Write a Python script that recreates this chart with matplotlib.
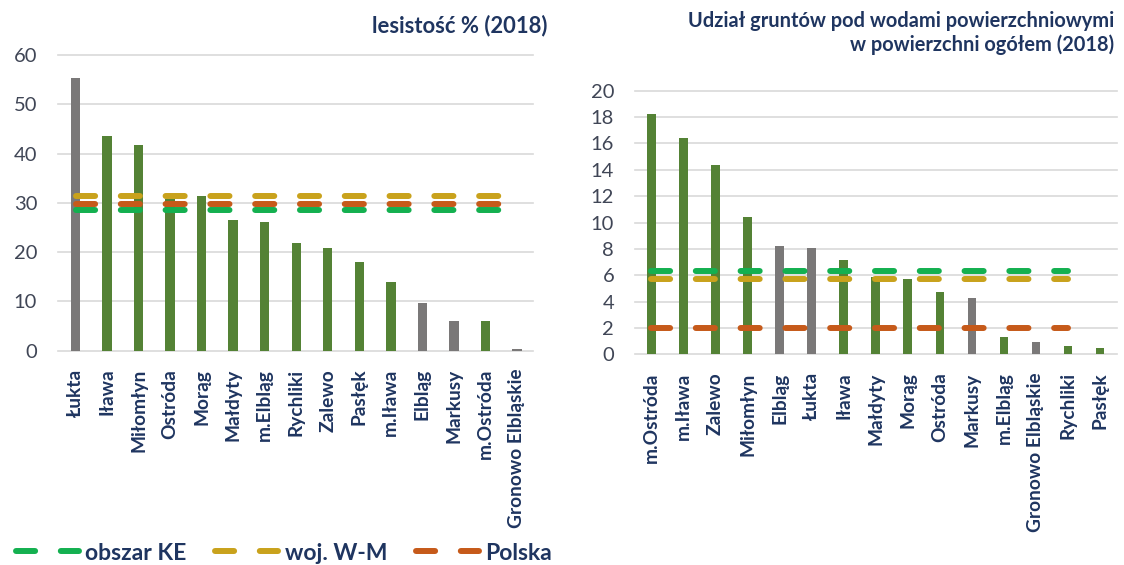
import matplotlib
matplotlib.use("Agg")
import matplotlib.pyplot as plt
from matplotlib.lines import Line2D

# ---------------- data ----------------
left_categories = ["Łukta", "Iława", "Miłomłyn", "Ostróda", "Morąg", "Małdyty", "m.Elbląg",
                   "Rychliki", "Zalewo", "Pasłęk", "m.Iława", "Elbląg", "Markusy",
                   "m.Ostróda", "Gronowo Elbląskie"]
left_values = [55.4, 43.6, 41.7, 30.7, 31.4, 26.5, 26.2, 21.8, 20.8, 17.9, 13.9, 9.7, 6.1, 6.1, 0.3]
left_is_gray = [True, False, False, False, False, False, False, False, False, False, False,
                True, True, False, True]
left_ke = 28.5
left_wm = 31.4
left_pl = 29.7

right_categories = ["m.Ostróda", "m.Iława", "Zalewo", "Miłomłyn", "Elbląg", "Łukta", "Iława",
                    "Małdyty", "Morąg", "Ostróda", "Markusy", "m.Elbląg", "Gronowo Elbląskie",
                    "Rychliki", "Pasłęk"]
right_values = [18.25, 16.4, 14.35, 10.45, 8.25, 8.05, 7.15, 5.85, 5.7, 4.75, 4.25, 1.3, 0.9, 0.63, 0.45]
right_is_gray = [False, False, False, False, True, True, False, False, False, False, True,
                 False, True, False, False]
right_ke = 6.3
right_wm = 5.7
right_pl = 2.0

left_title = "lesistość % (2018)"
right_title = "Udział gruntów pod wodami powierzchniowymi\nw powierzchni ogółem (2018)"
series_names = ["obszar KE", "woj. W-M", "Polska"]

# ---------------- style ----------------
FONT = "Lato"
NAVY = "#1f3560"
TICKGRAY = "#404656"
GRID = "#d9d9d9"
BAR_GREEN = "#548235"
BAR_GRAY = "#7a7878"
LINE_COLORS = {"obszar KE": "#14b050", "woj. W-M": "#c9a21c", "Polska": "#c65a1a"}
LW = 4.3
DASH = (0, (3.2, 4.3))

plt.rcParams["font.family"] = [FONT, "DejaVu Sans"]

W, H = 1124, 565
fig = plt.figure(figsize=(W / 100, H / 100), dpi=100)


def px_axes(l, r, t, b):
    return fig.add_axes([l / W, 1 - b / H, (r - l) / W, (b - t) / H])


def draw(ax, cats, vals, grays, ke, wm, pl, ymax, ystep, xlim, bar_w, line_n):
    x = list(range(len(cats)))
    colors = [BAR_GRAY if g else BAR_GREEN for g in grays]
    ax.bar(x, vals, width=bar_w, color=colors, zorder=2)
    xl = x[:line_n]
    for name, v in (("woj. W-M", wm), ("obszar KE", ke), ("Polska", pl)):
        ax.plot(xl, [v] * len(xl), color=LINE_COLORS[name], lw=LW, linestyle=DASH,
                dash_capstyle="round", solid_capstyle="round", zorder=3)
    ax.set_xlim(*xlim)
    ax.set_ylim(0, ymax)
    ax.set_yticks(list(range(0, ymax + 1, ystep)))
    ax.set_xticks(x)
    ax.set_xticklabels(cats, rotation=90, fontsize=13.8, fontweight="bold", color=NAVY)
    ax.tick_params(axis="x", length=0, pad=13)
    ax.tick_params(axis="y", length=0, pad=15, labelsize=14.5, labelcolor=TICKGRAY)
    for s in ax.spines.values():
        s.set_visible(False)
    ax.grid(axis="y", color=GRID, lw=1.2, zorder=0)
    ax.set_axisbelow(True)
    for gl in ax.get_ygridlines():
        gl.set_clip_on(False)


axL = px_axes(58, 533, 55, 350.7)
draw(axL, left_categories, left_values, left_is_gray, left_ke, left_wm, left_pl,
     60, 10, (-0.557, 14.51), 0.3, len(left_categories))

axR = px_axes(635, 1117, 90.7, 354.3)
draw(axR, right_categories, right_values, right_is_gray, right_ke, right_wm, right_pl,
     20, 2, (-0.515, 14.53), 0.27, len(right_categories) - 1)

fig.text(547 / W, 1 - 26 / H, left_title, ha="right", va="center", fontsize=15.8,
         fontweight="bold", color=NAVY)
fig.text(1114 / W, 1 - 33 / H, right_title, ha="right", va="center", fontsize=14.4,
         fontweight="bold", color=NAVY, linespacing=1.2, multialignment="right")

handles = [Line2D([0], [0], color=LINE_COLORS[n], lw=LW, linestyle=DASH,
                  dash_capstyle="round") for n in series_names]
fig.legend(handles, series_names, loc="center left", bbox_to_anchor=(16 / W, 1 - 553 / H),
           ncol=3, frameon=False, handlelength=2.75, handletextpad=0.28, columnspacing=1.25,
           borderpad=0, borderaxespad=0,
           prop={"family": FONT, "weight": "bold", "size": 16.5}, labelcolor=NAVY)

fig.savefig("out.png", dpi=100)
